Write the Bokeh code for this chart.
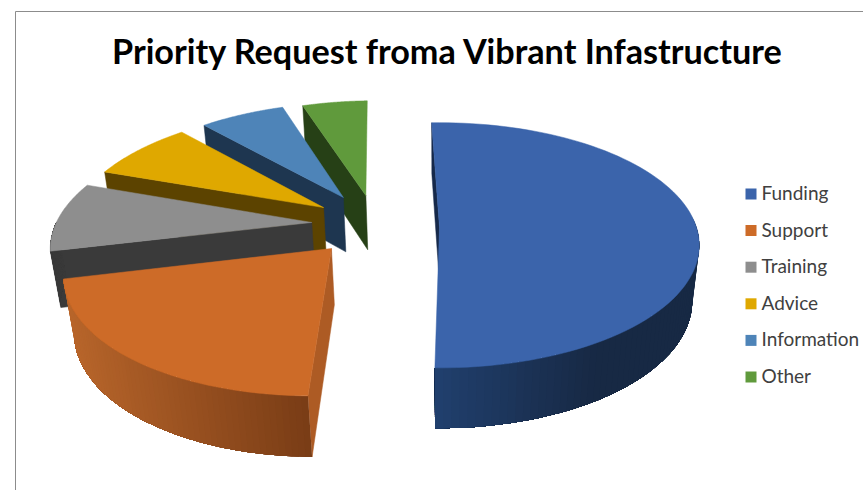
import numpy as np
from bokeh.embed import file_html
from bokeh.models import Range1d
from bokeh.plotting import figure
from bokeh.resources import INLINE
from bokeh.core.properties import value

# Chart content
title = "Priority Request froma Vibrant Infastructure"
categories = ["Funding", "Support", "Training", "Advice", "Information", "Other"]
shares = [50.8, 21.0, 9.1, 7.8, 6.4, 4.9]

# Slice colours: top face, radial wall, outer wall at its left and right ends
top_colors = ["#3b64ab", "#cd6b28", "#8e8e8e", "#dfa800", "#4e84b8", "#609a3c"]
wall_colors = ["#16294a", "#ad5b24", "#3a3a3a", "#5c4300", "#1e3650", "#264016"]
rim_left = ["#21406f", "#b9662b", "#3a3a3a", "#5c4300", "#1e3650", "#264016"]
rim_right = ["#172944", "#7a3d16", "#3a3a3a", "#5c4300", "#1e3650", "#264016"]

# How far each slice is pulled out of the pie, in pie radii, on the ground plane
pull_x = [0.0, -0.410, -0.500, -0.462, -0.388, -0.298]
pull_y = [0.0, 0.171, -0.042, -0.170, -0.259, -0.277]
radius = [1.0, 0.995, 1.0, 0.99, 0.97, 0.97]
first_angle = -2.0

# Camera: origin on screen, axis scales, tilt perspective and pie thickness
ORIGIN_X, ORIGIN_Y = 439.0, 227.0
SCALE_X, SCALE_Y = 257.0, 120.0
TILT = 0.145
DEPTH_Y, DEPTH_W = 57.0, 0.027


def project(wx, wy, z=0.0):
    """Map ground-plane points to the page; z runs 0 (top face) to 1 (bottom)."""
    wx, wy = np.asarray(wx, float), np.asarray(wy, float)
    w = 1 - TILT * wy + DEPTH_W * z
    return ORIGIN_X + SCALE_X * wx / w, ORIGIN_Y + (SCALE_Y * wy + DEPTH_Y * z) / w


def rim(cx, cy, r, theta_deg):
    t = np.radians(theta_deg)
    return cx + r * np.sin(t), cy - r * np.cos(t)


def mix(a, b, f):
    ca = [int(a[i:i + 2], 16) for i in (1, 3, 5)]
    cb = [int(b[i:i + 2], 16) for i in (1, 3, 5)]
    return "#%02x%02x%02x" % tuple(round(u + (v - u) * f) for u, v in zip(ca, cb))


p = figure(width=863, height=490, output_backend="svg", toolbar_location=None,
           x_range=Range1d(0, 863), y_range=Range1d(490, 0), min_border=0,
           outline_line_color=None, background_fill_color="white")
p.axis.visible = False
p.grid.visible = False

# Chart area border
p.line([15, 15, 863], [490, 11, 11], line_color="#8c8c8c", line_width=1)

# Sweep of every slice, clockwise from twelve o'clock
sweeps = np.array(shares, float) / sum(shares) * 360
starts = first_angle + np.concatenate([[0], np.cumsum(sweeps)[:-1]])

# Back slices first, then forward around the pie; the largest slice stays separate
for i in [5, 4, 3, 2, 1, 0]:
    cx, cy, r = pull_x[i], pull_y[i], radius[i]
    a0, a1 = starts[i], starts[i] + sweeps[i]

    # Radial wall along the leading edge of the slice
    rx, ry = rim(cx, cy, r, a0)
    tx, ty = project([cx, rx], [cy, ry], 0)
    bx, by = project([rx, cx], [ry, cy], 1)
    p.patch(list(tx) + list(bx), list(ty) + list(by),
            fill_color=wall_colors[i], line_color=wall_colors[i], line_width=0.5)

    # Outer wall, only where it faces the viewer; each band runs to the far
    # end of the wall and is painted over by the next, which avoids seams
    lo, hi = max(a0, 85.0), min(a1, 270.0)
    if hi > lo:
        edges = np.linspace(lo, hi, 61)
        xs, ys, cols = [], [], []
        sx_all = project(*rim(cx, cy, r, edges))[0]
        left, right = sx_all.min(), sx_all.max()
        for k in range(len(edges) - 1):
            arc = edges[k:]
            ax, ay = rim(cx, cy, r, arc)
            x0, y0 = project(ax, ay, 0)
            x1, y1 = project(ax[::-1], ay[::-1], 1)
            xs.append(list(x0) + list(x1))
            ys.append(list(y0) + list(y1))
            f = (sx_all[k] - left) / max(right - left, 1)
            cols.append(mix(rim_left[i], rim_right[i], min(1.0, f * (1.6 if i == 0 else 1.0))))
        p.patches(xs, ys, fill_color=cols, line_color=None)

    # Top face
    arc = np.linspace(a0, a1, 90)
    ax, ay = rim(cx, cy, r, arc)
    fx, fy = project(np.r_[cx, ax], np.r_[cy, ay], 0)
    p.patch(fx, fy, fill_color=top_colors[i], line_color=top_colors[i], line_width=0.5)

# Title
p.text([447.5], [50], text=[title], text_font=value("Lato"), text_font_style="bold",
       text_font_size="34.2px", text_color="#000000", text_align="center", text_baseline="middle")

# Legend
rows = 193.5 + 36.6 * np.arange(len(categories))
p.rect([750.5] * len(categories), rows, width=11, height=11, fill_color=top_colors, line_color=None)
p.text([761] * len(categories), rows - 1.5, text=categories, text_font=value("Lato"),
       text_font_size="19px", text_color="#404040", text_align="left", text_baseline="middle")

open("out.html", "w").write(file_html(p, INLINE))
